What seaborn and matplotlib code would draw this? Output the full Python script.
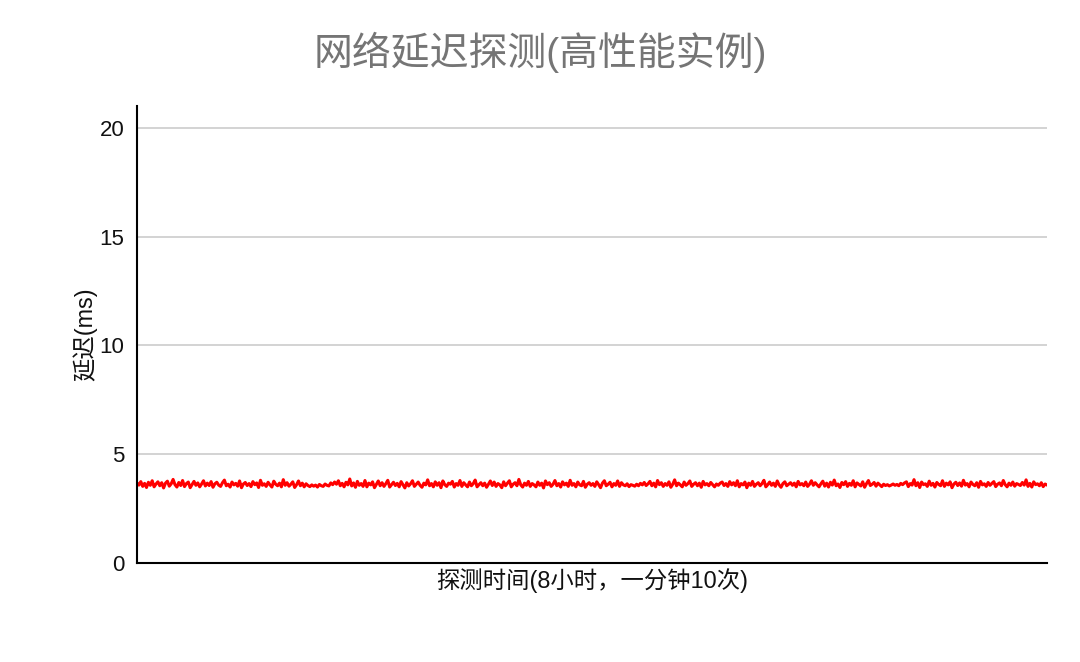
import numpy as np
import pandas as pd
import matplotlib
matplotlib.use("Agg")
import matplotlib.pyplot as plt
import seaborn as sns

latency_ms = [
    3.68, 3.58, 3.74, 3.52, 3.66, 3.47, 3.71, 3.57, 3.78, 3.50, 3.63, 3.73, 3.55, 3.69, 3.45,
    3.67, 3.76, 3.53, 3.64, 3.84, 3.60, 3.49, 3.70, 3.56, 3.79, 3.51, 3.65, 3.72, 3.46, 3.61,
    3.75, 3.57, 3.68, 3.50, 3.63, 3.78, 3.54, 3.67, 3.56, 3.74, 3.48, 3.64, 3.71, 3.58, 3.52,
    3.69, 3.81, 3.55, 3.62, 3.49, 3.72, 3.59, 3.66, 3.53, 3.77, 3.46, 3.63, 3.70, 3.56, 3.65,
    3.51, 3.74, 3.60, 3.68, 3.47, 3.80, 3.57, 3.64, 3.52, 3.71, 3.59, 3.49, 3.76, 3.62, 3.55,
    3.67, 3.50, 3.83, 3.57, 3.69, 3.53, 3.62, 3.73, 3.47, 3.60, 3.77, 3.55, 3.67, 3.50, 3.64,
    3.56, 3.51, 3.59, 3.53, 3.58, 3.49, 3.61, 3.55, 3.52, 3.63, 3.57, 3.54, 3.68, 3.60, 3.72,
    3.62, 3.78, 3.55, 3.66, 3.50, 3.71, 3.59, 3.86, 3.54, 3.68, 3.48, 3.75, 3.57, 3.65, 3.52,
    3.79, 3.50, 3.67, 3.59, 3.73, 3.46, 3.62, 3.77, 3.55, 3.69, 3.52, 3.65, 3.80, 3.49, 3.60,
    3.71, 3.56, 3.66, 3.50, 3.74, 3.59, 3.45, 3.69, 3.54, 3.64, 3.78, 3.52, 3.62, 3.72, 3.57,
    3.48, 3.67, 3.59, 3.82, 3.55, 3.65, 3.50, 3.73, 3.57, 3.69, 3.46, 3.77, 3.60, 3.52, 3.67,
    3.62, 3.75, 3.49, 3.65, 3.57, 3.79, 3.52, 3.69, 3.59, 3.50, 3.72, 3.55, 3.65, 3.81, 3.50,
    3.60, 3.69, 3.55, 3.67, 3.48, 3.62, 3.77, 3.56, 3.72, 3.52, 3.65, 3.59, 3.46, 3.73, 3.55,
    3.67, 3.78, 3.50, 3.62, 3.69, 3.55, 3.84, 3.59, 3.49, 3.67, 3.57, 3.75, 3.52, 3.65, 3.59,
    3.50, 3.72, 3.57, 3.67, 3.45, 3.77, 3.60, 3.69, 3.52, 3.62, 3.79, 3.55, 3.65, 3.49, 3.73,
    3.59, 3.67, 3.52, 3.80, 3.57, 3.65, 3.50, 3.72, 3.59, 3.55, 3.75, 3.48, 3.62, 3.69, 3.57,
    3.65, 3.52, 3.73, 3.60, 3.46, 3.67, 3.78, 3.55, 3.62, 3.71, 3.50, 3.65, 3.57, 3.77, 3.52,
    3.69, 3.59, 3.55, 3.64, 3.51, 3.60, 3.57, 3.53, 3.62, 3.55, 3.66, 3.59, 3.70, 3.56, 3.64,
    3.75, 3.55, 3.67, 3.50, 3.79, 3.60, 3.69, 3.52, 3.65, 3.57, 3.73, 3.48, 3.62, 3.82, 3.55,
    3.67, 3.59, 3.50, 3.72, 3.57, 3.65, 3.77, 3.52, 3.62, 3.69, 3.55, 3.67, 3.48, 3.75, 3.59,
    3.65, 3.55, 3.70, 3.60, 3.50, 3.63, 3.57, 3.67, 3.72, 3.56, 3.65, 3.52, 3.74, 3.59, 3.69,
    3.55, 3.78, 3.50, 3.65, 3.59, 3.72, 3.46, 3.67, 3.57, 3.75, 3.52, 3.62, 3.69, 3.55, 3.65,
    3.80, 3.50, 3.60, 3.72, 3.57, 3.67, 3.52, 3.77, 3.59, 3.48, 3.65, 3.73, 3.55, 3.62, 3.69,
    3.57, 3.67, 3.50, 3.75, 3.59, 3.65, 3.55, 3.72, 3.52, 3.62, 3.78, 3.57, 3.69, 3.59, 3.50,
    3.64, 3.76, 3.53, 3.67, 3.49, 3.71, 3.58, 3.81, 3.55, 3.63, 3.47, 3.70, 3.60, 3.74, 3.52,
    3.66, 3.57, 3.78, 3.50, 3.68, 3.61, 3.54, 3.73, 3.48, 3.65, 3.79, 3.56, 3.62, 3.70, 3.53,
    3.67, 3.59, 3.51, 3.62, 3.56, 3.60, 3.54, 3.58, 3.63, 3.57, 3.61, 3.55, 3.66, 3.60, 3.68,
    3.73, 3.51, 3.65, 3.58, 3.83, 3.55, 3.69, 3.47, 3.72, 3.60, 3.64, 3.52, 3.76, 3.57, 3.66,
    3.49, 3.70, 3.61, 3.55, 3.78, 3.52, 3.67, 3.59, 3.73, 3.46, 3.63, 3.71, 3.56, 3.68, 3.53,
    3.80, 3.58, 3.65, 3.50, 3.72, 3.61, 3.55, 3.69, 3.48, 3.75, 3.59, 3.64, 3.52, 3.70, 3.57,
    3.66, 3.74, 3.51, 3.62, 3.68, 3.55, 3.79, 3.60, 3.50, 3.67, 3.57, 3.72, 3.53, 3.65, 3.61,
    3.56, 3.70, 3.58, 3.82, 3.52, 3.66, 3.49, 3.73, 3.60, 3.64, 3.55, 3.69, 3.51, 3.63, 3.58,
]
y_ticks = [0, 5, 10, 15, 20]
title_text = "网络延迟探测(高性能实例)"
x_label = "探测时间(8小时，一分钟10次)"
y_label = "延迟(ms)"

df = pd.DataFrame({"sample": np.arange(len(latency_ms)), "latency": latency_ms})

sns.set_theme(style="white")
plt.rcParams["font.family"] = ["Liberation Sans", "Noto Sans CJK SC", "DejaVu Sans"]

fig = plt.figure(figsize=(10.8, 6.62), dpi=100)
ax = fig.add_axes([137 / 1080, 1 - 563 / 662, 910 / 1080, 457 / 662])

sns.lineplot(data=df, x="sample", y="latency", ax=ax, color="#ff0000", linewidth=2.2)

ax.set_xlim(0, len(latency_ms) - 1)
ax.set_ylim(0, 21)
ax.set_yticks(y_ticks)
ax.set_xticks([])
for t in y_ticks[1:]:
    ax.axhline(t, color="#d0d0d0", linewidth=1.3, zorder=0)

for side in ["top", "right"]:
    ax.spines[side].set_visible(False)
for side in ["left", "bottom"]:
    ax.spines[side].set_color("black")
    ax.spines[side].set_linewidth(1.5)

ax.tick_params(axis="y", length=0, pad=9, labelsize=16, labelcolor="#111111")
ax.set_xlabel(x_label, fontsize=16.8, color="#111111", labelpad=4)
ax.set_ylabel(y_label, fontsize=16.8, color="#111111", labelpad=2)

fig.text(0.5, 1 - 52 / 662, title_text, ha="center", va="center",
         fontsize=28, color="#757575")

fig.savefig("out.png", dpi=100)
